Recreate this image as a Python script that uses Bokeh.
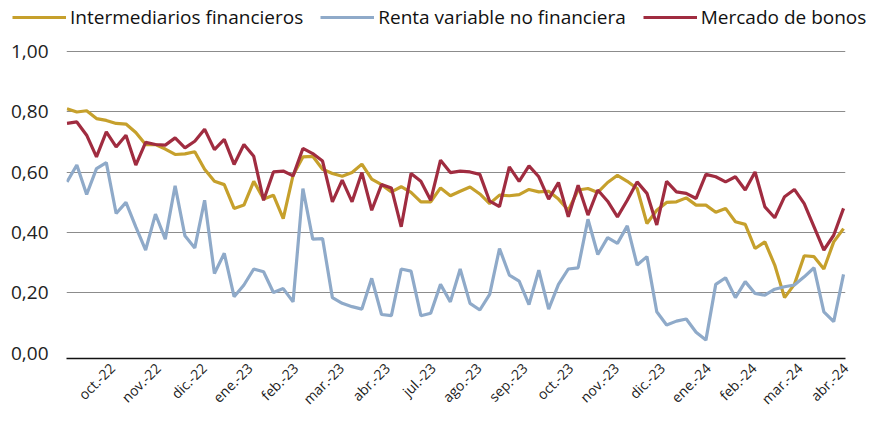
import numpy as np
from bokeh.plotting import figure
from bokeh.layouts import column
from bokeh.models import Legend, LegendItem, FixedTicker, Range1d
from bokeh.embed import file_html
from bokeh.resources import INLINE

intermediarios = [0.811, 0.800, 0.804, 0.778, 0.772, 0.762, 0.760, 0.732, 0.692, 0.692,
                  0.677, 0.659, 0.661, 0.668, 0.610, 0.570, 0.559, 0.480, 0.491, 0.570,
                  0.511, 0.524, 0.446, 0.590, 0.651, 0.653, 0.610, 0.596, 0.587, 0.599,
                  0.627, 0.577, 0.559, 0.535, 0.552, 0.533, 0.502, 0.502, 0.548, 0.522,
                  0.537, 0.551, 0.528, 0.496, 0.524, 0.522, 0.526, 0.543, 0.535, 0.537,
                  0.511, 0.474, 0.541, 0.546, 0.533, 0.566, 0.590, 0.570, 0.546, 0.430,
                  0.474, 0.500, 0.502, 0.515, 0.491, 0.491, 0.467, 0.480, 0.436, 0.427,
                  0.347, 0.369, 0.292, 0.184, 0.228, 0.323, 0.320, 0.279, 0.369, 0.413]

renta_variable = [0.568, 0.624, 0.526, 0.612, 0.632, 0.463, 0.500, 0.419, 0.342, 0.461,
                  0.378, 0.555, 0.389, 0.349, 0.507, 0.264, 0.331, 0.187, 0.226, 0.279,
                  0.270, 0.201, 0.214, 0.170, 0.546, 0.378, 0.380, 0.184, 0.165, 0.154,
                  0.146, 0.248, 0.128, 0.124, 0.279, 0.272, 0.124, 0.132, 0.228, 0.170,
                  0.279, 0.165, 0.143, 0.195, 0.347, 0.259, 0.239, 0.161, 0.275, 0.146,
                  0.228, 0.279, 0.283, 0.444, 0.327, 0.383, 0.364, 0.422, 0.292, 0.320,
                  0.137, 0.093, 0.106, 0.113, 0.069, 0.043, 0.228, 0.250, 0.184, 0.237,
                  0.198, 0.192, 0.212, 0.220, 0.226, 0.253, 0.283, 0.137, 0.104, 0.261]

bonos = [0.762, 0.767, 0.723, 0.651, 0.734, 0.684, 0.723, 0.624, 0.699, 0.692,
         0.690, 0.714, 0.681, 0.703, 0.743, 0.675, 0.709, 0.626, 0.692, 0.653,
         0.507, 0.601, 0.604, 0.588, 0.679, 0.662, 0.637, 0.502, 0.574, 0.502,
         0.599, 0.474, 0.559, 0.548, 0.419, 0.596, 0.570, 0.507, 0.640, 0.599,
         0.604, 0.601, 0.593, 0.504, 0.486, 0.618, 0.570, 0.621, 0.585, 0.511,
         0.566, 0.452, 0.557, 0.458, 0.541, 0.504, 0.452, 0.507, 0.568, 0.530,
         0.425, 0.570, 0.535, 0.530, 0.513, 0.593, 0.585, 0.568, 0.585, 0.541,
         0.601, 0.485, 0.449, 0.519, 0.543, 0.496, 0.419, 0.342, 0.391, 0.480]

month_labels = ["oct.-22", "nov.-22", "dic.-22", "ene.-23", "feb.-23", "mar.-23",
                "abr.-23", "jul.-23", "ago.-23", "sep.-23", "oct.-23", "nov.-23",
                "dic.-23", "ene.-24", "feb.-24", "mar.-24", "abr.-24"]

y_ticks = [0.0, 0.2, 0.4, 0.6, 0.8, 1.0]
y_labels = ["0,00", "0,20", "0,40", "0,60", "0,80", "1,00"]

series_names = ["Intermediarios financieros", "Renta variable no financiera", "Mercado de bonos"]
colors = ["#C6A02C", "#8FAAC9", "#A02C40"]
all_series = [intermediarios, renta_variable, bonos]

FONT = "Open Sans"

x = list(range(len(intermediarios)))
n = len(x)

LEG_H = 34

# ---- main chart ----
p = figure(width=874, height=423 - LEG_H, output_backend="svg", toolbar_location=None,
           x_range=Range1d(-0.05, n - 0.8), y_range=Range1d(-0.018, 1.004),
           min_border_left=66, min_border_right=29, min_border_top=50 - LEG_H, min_border_bottom=65)
p.outline_line_color = None
p.background_fill_color = "white"
p.frame_align = False

for vals, c in zip(all_series, colors):
    p.line(x, vals, line_color=c, line_width=3.2)

tick_pos = [round(float(v), 2) for v in np.linspace(4.6, n - 1 + 0.2, len(month_labels))]
p.xaxis.ticker = FixedTicker(ticks=tick_pos)
p.xaxis.major_label_overrides = {t: l for t, l in zip(tick_pos, month_labels)}
p.xaxis.major_label_orientation = np.pi / 4
p.xaxis.major_tick_line_color = None
p.xaxis.major_tick_out = 0
p.xaxis.major_tick_in = 0
p.xaxis.minor_tick_line_color = None
p.xaxis.axis_line_color = "#111111"
p.xaxis.axis_line_width = 1.5
p.xaxis.major_label_text_font = FONT
p.xaxis.major_label_text_font_size = "14px"
p.xaxis.major_label_text_color = "#222222"
p.xaxis.major_label_standoff = 7

p.yaxis.ticker = FixedTicker(ticks=y_ticks)
p.yaxis.major_label_overrides = {t: l for t, l in zip(y_ticks, y_labels)}
p.yaxis.axis_line_color = None
p.yaxis.major_tick_line_color = None
p.yaxis.major_tick_out = 0
p.yaxis.major_tick_in = 0
p.yaxis.minor_tick_line_color = None
p.yaxis.major_label_text_font = FONT
p.yaxis.major_label_text_font_size = "19px"
p.yaxis.major_label_text_color = "#222222"
p.yaxis.major_label_standoff = 18

p.xgrid.grid_line_color = None
p.ygrid.ticker = FixedTicker(ticks=y_ticks[1:])
p.ygrid.grid_line_color = "#8C8C8C"
p.ygrid.grid_line_width = 1

# ---- legend strip (lines kept out of view; only the legend shows) ----
lg = figure(width=874, height=LEG_H, output_backend="svg", toolbar_location=None,
            x_range=Range1d(0, 874), y_range=Range1d(5, 6),
            min_border_left=0, min_border_right=0, min_border_top=0, min_border_bottom=0,
            x_axis_location=None, y_axis_location=None)
lg.outline_line_color = None
lg.frame_align = False
lg.xgrid.visible = False
lg.ygrid.visible = False
leg_renderers = [lg.line(x, vals, line_color=c, line_width=3.2) for vals, c in zip(all_series, colors)]

legend = Legend(items=[LegendItem(label=nm, renderers=[r]) for nm, r in zip(series_names, leg_renderers)],
                orientation="horizontal", location=(12, 4))
legend.glyph_width = 54
legend.glyph_height = 22
legend.label_height = 22
legend.label_standoff = 4
legend.spacing = 17
legend.padding = 0
legend.margin = 0
legend.border_line_color = None
legend.background_fill_alpha = 0
legend.label_text_font = FONT
legend.label_text_font_size = "19px"
legend.label_text_color = "#111111"
lg.add_layout(legend, "center")

layout = column(lg, p, spacing=0)
open("out.html", "w").write(file_html(layout, INLINE))
